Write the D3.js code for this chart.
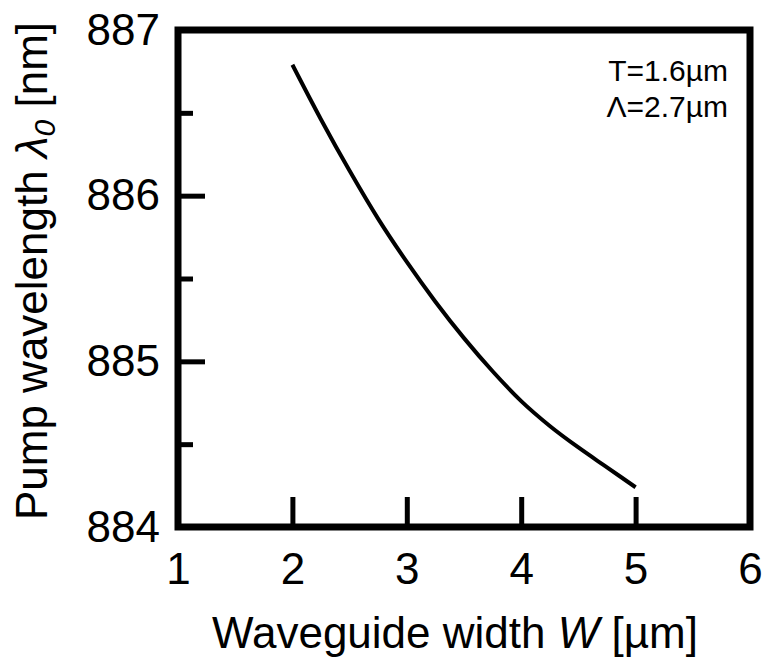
<!DOCTYPE html>
<html>
<head>
<meta charset="utf-8">
<script src="https://cdn.jsdelivr.net/npm/d3@7"></script>
<style>
  html, body { margin: 0; padding: 0; background: #fff; }
  svg { display: block; font-family: "Liberation Sans", Arial, Helvetica, sans-serif; }
</style>
</head>
<body>
<svg id="chart" width="765" height="659"></svg>
<script>
const widthW = [2.0, 2.25, 2.5, 2.75, 3.0, 3.25, 3.5, 3.75, 4.0, 4.25, 4.5, 4.75, 5.0];
const pumpLambda = [886.79, 886.46, 886.15, 885.86, 885.60, 885.36, 885.14, 884.94, 884.76, 884.61, 884.48, 884.36, 884.24];
const xTicks = [1, 2, 3, 4, 5, 6];
const yTicks = [884, 885, 886, 887];
const yMinorTicks = [884.5, 885.5, 886.5];

const svg = d3.select("#chart");
const L = 178, R = 750, T = 30, B = 527;
const x = d3.scaleLinear().domain([1, 6]).range([L, R]);
const y = d3.scaleLinear().domain([884, 887]).range([B, T]);
const FONT = "Liberation Sans, Arial, sans-serif";

// x axis ticks + labels
const gx = svg.append("g").attr("transform", `translate(0,${B})`)
  .call(d3.axisBottom(x).tickValues(xTicks).tickSize(-30).tickPadding(26).tickFormat(d3.format("d")));
gx.select(".domain").remove();
gx.selectAll(".tick line").attr("stroke", "#000").attr("stroke-width", 5);
gx.selectAll(".tick text").attr("font-size", 44).attr("fill", "#000").attr("font-family", FONT);

// y axis major ticks + labels
const gy = svg.append("g").attr("transform", `translate(${L},0)`)
  .call(d3.axisLeft(y).tickValues(yTicks).tickSize(-27).tickPadding(18).tickFormat(d3.format("d")));
gy.select(".domain").remove();
gy.selectAll(".tick line").attr("stroke", "#000").attr("stroke-width", 5);
gy.selectAll(".tick text").attr("font-size", 44).attr("fill", "#000").attr("font-family", FONT);

// y minor ticks
const gym = svg.append("g").attr("transform", `translate(${L},0)`)
  .call(d3.axisLeft(y).tickValues(yMinorTicks).tickSize(-15).tickFormat(""));
gym.select(".domain").remove();
gym.selectAll(".tick line").attr("stroke", "#000").attr("stroke-width", 5);

// frame
svg.append("rect").attr("x", L).attr("y", T).attr("width", R - L).attr("height", B - T)
  .attr("fill", "none").attr("stroke", "#000").attr("stroke-width", 7);

// curve
const pts = widthW.map((w, i) => [w, pumpLambda[i]]);
svg.append("path").datum(pts)
  .attr("fill", "none").attr("stroke", "#000").attr("stroke-width", 4)
  .attr("d", d3.line().x(d => x(d[0])).y(d => y(d[1])).curve(d3.curveMonotoneX));

// annotations
svg.append("text").attr("x", 728).attr("y", 81).attr("text-anchor", "end")
  .attr("font-size", 30).text("T=1.6µm");
svg.append("text").attr("x", 728).attr("y", 117).attr("text-anchor", "end")
  .attr("font-size", 30).text("Λ=2.7µm");

// x title
const xt = svg.append("text").attr("x", 455).attr("y", 648).attr("text-anchor", "middle").attr("font-size", 44);
xt.append("tspan").text("Waveguide width ");
xt.append("tspan").attr("font-style", "italic").text("W");
xt.append("tspan").text(" [µm]");

// y title
const yt = svg.append("text").attr("transform", "translate(47,271) rotate(-90)")
  .attr("text-anchor", "middle").attr("font-size", 44);
yt.append("tspan").text("Pump wavelength ");
yt.append("tspan").attr("font-style", "italic").text("λ");
yt.append("tspan").attr("font-style", "italic").attr("font-size", 30).attr("dy", 8).text("0");
yt.append("tspan").attr("dy", -8).text(" [nm]");
</script>
</body>
</html>
